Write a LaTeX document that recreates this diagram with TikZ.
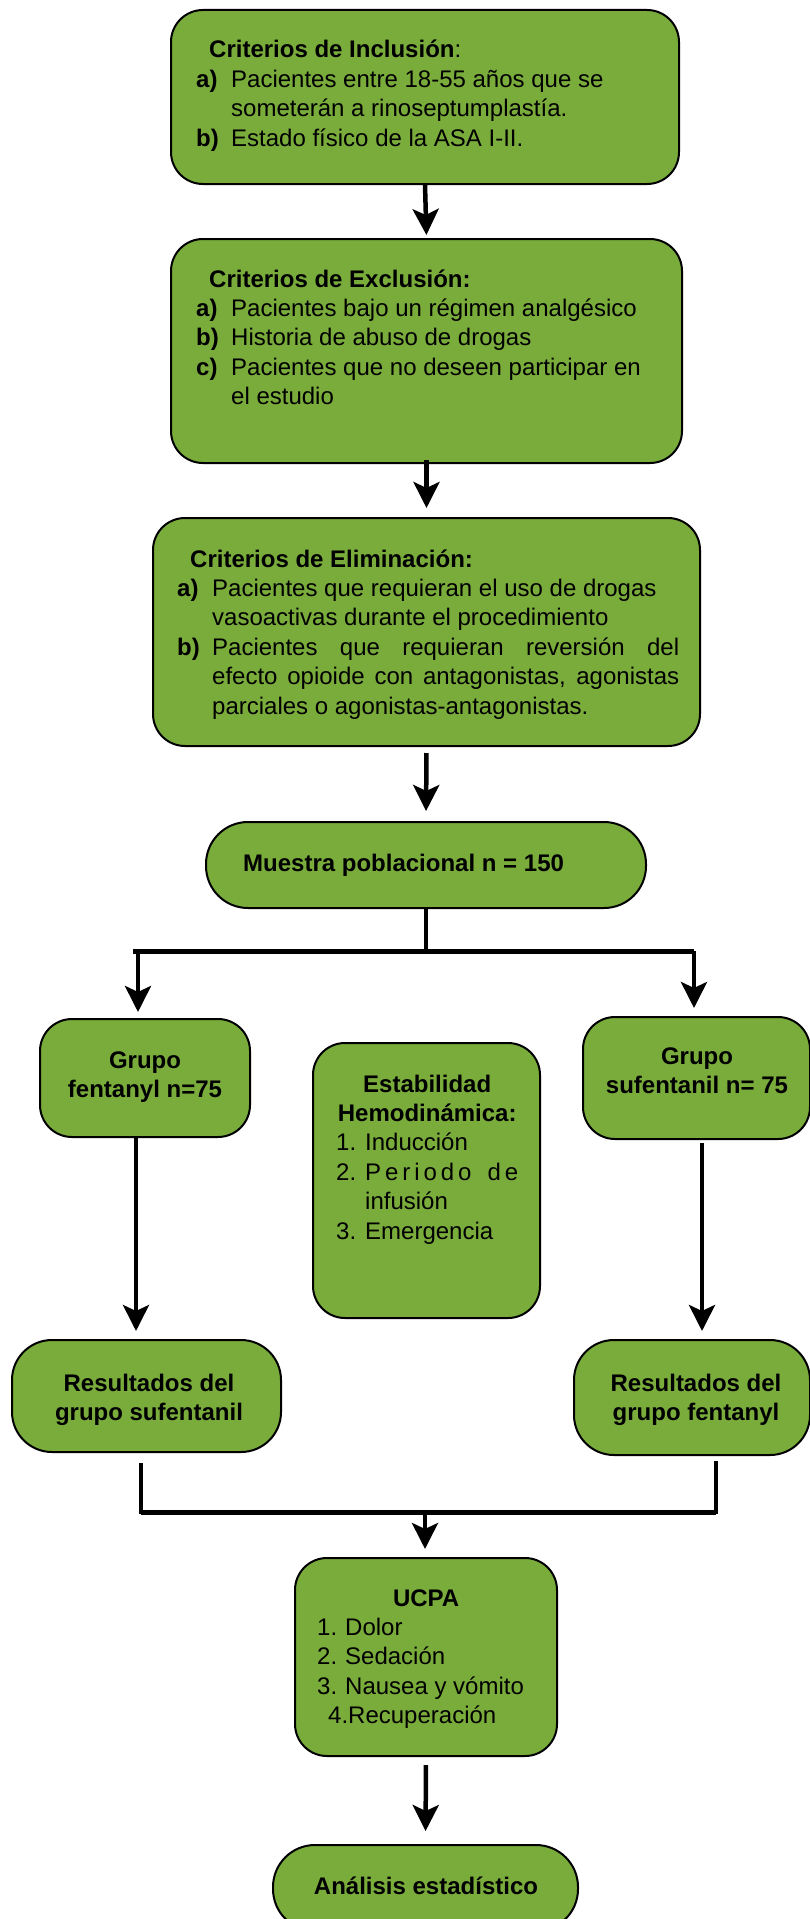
\documentclass[tikz,border=0pt]{standalone}
\usepackage{fontspec}
\setmainfont{Liberation Sans}
\usetikzlibrary{arrows.meta}
\definecolor{boxgreen}{RGB}{122,172,60}
\newcommand{\fs}{\fontsize{24}{29.4}\selectfont}
\newcommand{\itm}[2]{\noindent\hangindent=35pt\hangafter=1\makebox[35pt][l]{\bfseries #1}#2\par}
\newcommand{\nitm}[3][29pt]{\noindent\hangindent=#1\hangafter=1\makebox[#1][l]{#2}#3\par}
\newcommand{\tbox}[2]{\vtop{\hsize=#1\parindent=0pt\parskip=0pt\fs #2}}
\tikzset{
  box/.style={draw=black, line width=2pt, fill=boxgreen, rounded corners=32pt, inner sep=0pt},
  pill/.style={box, rounded corners=42pt},
  txt/.style={inner sep=0pt, anchor=base west},
  ctxt/.style={inner sep=0pt, anchor=base},
  ln/.style={line width=4.5pt},
  hln/.style={line width=5pt},
  arr/.style={line width=4.5pt, -{Stealth[width=26pt,length=26pt,inset=6pt]}},
}
\begin{document}
\begin{tikzpicture}[x=1pt,y=-1pt]
\useasboundingbox (0,0) rectangle (810,1919);
\clip (0,0) rectangle (810,1919);

% boxes
\node[box, minimum width=508pt, minimum height=174pt] (b1) at (425,97) {};
\node[box, minimum width=511pt, minimum height=224pt] (b2) at (426.5,351) {};
\node[box, minimum width=547pt, minimum height=228pt] (b3) at (426.5,632) {};
\node[pill, minimum width=440pt, minimum height=86pt] (b4) at (426,865) {};
\node[box, minimum width=210pt, minimum height=118pt] (gf) at (145,1078) {};
\node[box, minimum width=227pt, minimum height=275pt] (est) at (426.5,1180.5) {};
\node[box, minimum width=227pt, minimum height=122pt] (gs) at (696.5,1078) {};
\node[box, rounded corners=40pt, minimum width=269pt, minimum height=112pt] (rs) at (146.5,1396) {};
\node[box, rounded corners=40pt, minimum width=236pt, minimum height=115pt] (rf) at (692,1397.5) {};
\node[box, minimum width=262pt, minimum height=198pt] (ucpa) at (426,1657) {};
\node[pill, minimum width=305pt, minimum height=86pt] (an) at (425.5,1888) {};

% texts
\node[txt] (t1) at (196,58) {\tbox{470pt}{\raggedright
\noindent\hspace*{13pt}\textbf{Criterios de Inclusión}:\par
\itm{a)}{Pacientes entre 18-55 años que se\newline someterán a rinoseptumplastía.}
\itm{b)}{Estado físico de la ASA I-II.}}};

\node[txt] (t2) at (196,287) {\tbox{475pt}{\raggedright
\noindent\hspace*{13pt}\textbf{Criterios de Exclusión:}\par
\itm{a)}{Pacientes bajo un régimen analgésico}
\itm{b)}{Historia de abuso de drogas}
\itm{c)}{Pacientes que no deseen participar en\newline el estudio}}};

\node[txt] (t3) at (177,567) {\tbox{502pt}{%
\noindent\hspace*{13pt}\textbf{Criterios de Eliminación:}\par
\itm{a)}{Pacientes que requieran el uso de drogas\newline vasoactivas durante el procedimiento}
\itm{b)}{Pacientes que requieran reversión del\linebreak efecto opioide con antagonistas, agonistas\linebreak parciales o agonistas-antagonistas.}}};

\node[txt, font=\fs\bfseries] (t4) at (243,871) {Muestra poblacional n = 150};

\node[ctxt] (tgf) at (145,1068) {\tbox{200pt}{\centering\bfseries Grupo\\fentanyl n=75\par}};
\node[ctxt] (tgs) at (697,1064) {\tbox{220pt}{\centering\bfseries Grupo\\sufentanil n= 75\par}};

\node[txt] (test) at (336,1092) {\tbox{182pt}{{\centering\bfseries Estabilidad\\Hemodinámica:\par}\raggedright
\nitm{1.}{Inducción}
\nitm{2.}{\hbox to 153pt{P\hfil e\hfil r\hfil i\hfil o\hfil d\hfil o\hskip 12pt plus 1fil d\hfil e}\newline infusión}
\nitm{3.}{Emergencia}}};

\node[ctxt] (trs) at (149,1391) {\tbox{260pt}{\centering\bfseries Resultados del\\grupo sufentanil\par}};
\node[ctxt] (trf) at (696,1391) {\tbox{230pt}{\centering\bfseries Resultados del\\grupo fentanyl\par}};

\node[txt] (tucpa) at (317,1606) {\tbox{218pt}{{\centering\bfseries UCPA\par}\raggedright
\nitm[28pt]{1.}{Dolor}
\nitm[28pt]{2.}{Sedación}
\nitm[28pt]{3.}{Nausea y vómito}
\noindent\hspace*{11pt}4.Recuperación\par}};

\node[ctxt, font=\fs\bfseries] (tan) at (426,1894) {Análisis estadístico};

% connectors
\draw[arr, shorten >=3pt] (b1.south) -- (b2.north);
\draw[arr, shorten <=-4pt, shorten >=9pt] (b2.south) -- (b3.north);
\draw[arr, shorten <=6pt, shorten >=10pt] (b3.south) -- (b4.north);

\coordinate (fk) at (426,951);
\coordinate (fl) at (133,951);
\coordinate (fr) at (694,951);
\draw[ln] (b4.south) -- (fk);
\draw[hln] (fl) -- (fr);
\draw[arr, shorten >=6pt] ([xshift=5pt]fl) -- ([xshift=5pt]fl |- gf.north);
\draw[arr, shorten >=8pt] (fr) -- (fr |- gs.north);

\draw[arr, shorten >=8pt] ([xshift=-9pt]gf.south) -- ([xshift=-9pt]gf.south |- rs.north);
\draw[arr, shorten <=3pt, shorten >=8pt] ([xshift=5.5pt]gs.south) -- ([xshift=5.5pt]gs.south |- rf.north);

\coordinate (ml) at (141,1512);
\coordinate (mr) at (716,1512);
\coordinate (mc) at (425,1512);
\draw[ln, shorten <=10pt] (ml |- rs.south) -- ([yshift=-2pt]ml);
\draw[ln, shorten <=5pt] (mr |- rf.south) -- ([yshift=-2pt]mr);
\draw[hln] (ml) -- (mr);
\draw[arr, shorten >=8pt] (mc) -- (mc |- ucpa.north);
\draw[arr, shorten <=8pt, shorten >=13pt] (ucpa.south) -- (an.north);
\end{tikzpicture}
\end{document}
